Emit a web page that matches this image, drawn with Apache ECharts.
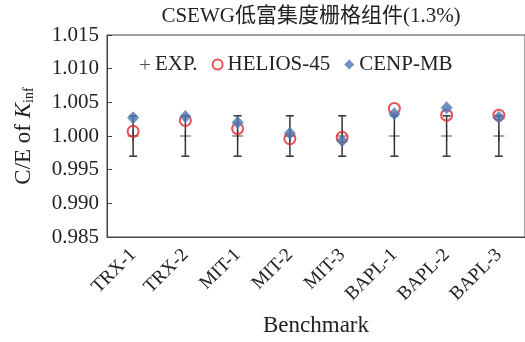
<!DOCTYPE html>
<html>
<head>
<meta charset="utf-8">
<script src="https://cdn.jsdelivr.net/npm/echarts@6/dist/echarts.min.js"></script>
<style>
  html, body { margin: 0; padding: 0; background: #fff; }
  #main { width: 525px; height: 342px; }
</style>
</head>
<body>
<div id="main"></div>
<script>
// benchmark data
const categories = ['TRX-1', 'TRX-2', 'MIT-1', 'MIT-2', 'MIT-3', 'BAPL-1', 'BAPL-2', 'BAPL-3'];
const expValues = [1.000, 1.000, 1.000, 1.000, 1.000, 1.000, 1.000, 1.000];
const expError = [0.003, 0.003, 0.003, 0.003, 0.003, 0.003, 0.003, 0.003];
const heliosValues = [1.0007, 1.0023, 1.0011, 0.9996, 0.9998, 1.0041, 1.0031, 1.0031];
const cenpValues = [1.0027, 1.0029, 1.0020, 1.0004, 0.9993, 1.0033, 1.0042, 1.0028];

const serif = '"Liberation Serif", "Times New Roman", "Noto Sans CJK SC", serif';
const plusPath = 'path://M4.5,0L5.5,0L5.5,4.5L10,4.5L10,5.5L5.5,5.5L5.5,10L4.5,10L4.5,5.5L0,5.5L0,4.5L4.5,4.5Z';

let errData = [];
expValues.forEach((v, i) => {
    errData.push([i, v - expError[i], v + expError[i]]);
});

let chart = echarts.init(document.getElementById('main'));
let options = {
    animation: false,
    title: {
        text: 'CSEWG低富集度栅格组件(1.3%)',
        left: 306,
        textAlign: 'center',
        top: 1,
        textStyle: { fontFamily: serif, fontSize: 21, fontWeight: 'normal', color: '#222' }
    },
    legend: {
        left: 135,
        top: 49,
        itemGap: 14,
        itemWidth: 10,
        itemHeight: 10,
        textStyle: { fontFamily: serif, fontSize: 21, color: '#222' },
        data: ['EXP.', 'HELIOS-45', 'CENP-MB']
    },
    grid: {
        left: 107,
        width: 421,
        top: 35,
        bottom: 102,
        show: true,
        borderColor: '#444',
        borderWidth: 1
    },
    xAxis: {
        type: 'category',
        data: categories,
        name: 'Benchmark',
        nameLocation: 'middle',
        nameGap: 77,
        nameTextStyle: { fontFamily: serif, fontSize: 23, color: '#222' },
        axisLine: { lineStyle: { color: '#444' } },
        axisTick: { inside: true, length: 5, lineStyle: { color: '#444' } },
        axisLabel: { rotate: 45, fontFamily: serif, fontSize: 19, color: '#222', margin: 15, interval: 0 }
    },
    yAxis: {
        type: 'value',
        min: 0.985,
        max: 1.015,
        interval: 0.005,
        name: 'C/E of {i|K}{sub|inf}',
        nameLocation: 'middle',
        nameGap: 71,
        nameTextStyle: {
            fontFamily: serif, fontSize: 23, color: '#222',
            rich: {
                i: { fontFamily: serif, fontSize: 23, fontStyle: 'italic', color: '#222' },
                sub: { fontFamily: serif, fontSize: 14, color: '#222', verticalAlign: 'bottom', padding: [10, 0, 0, 0] }
            }
        },
        splitLine: { show: false },
        axisLine: { show: true, lineStyle: { color: '#444' } },
        axisTick: { show: true, inside: true, length: 5, lineStyle: { color: '#444' } },
        axisLabel: {
            fontFamily: serif, fontSize: 21, color: '#222', margin: 8,
            formatter: function (v) { return v.toFixed(3); }
        }
    },
    series: [
        {
            name: 'errbar',
            type: 'custom',
            data: errData,
            z: 1,
            renderItem: function (params, api) {
                let x = api.value(0);
                let lo = api.coord([x, api.value(1)]);
                let hi = api.coord([x, api.value(2)]);
                let w = 4;
                let st = { stroke: '#333', lineWidth: 1.5 };
                return {
                    type: 'group',
                    children: [
                        { type: 'line', shape: { x1: lo[0], y1: lo[1], x2: hi[0], y2: hi[1] }, style: st },
                        { type: 'line', shape: { x1: lo[0] - w, y1: lo[1], x2: lo[0] + w, y2: lo[1] }, style: st },
                        { type: 'line', shape: { x1: hi[0] - w, y1: hi[1], x2: hi[0] + w, y2: hi[1] }, style: st }
                    ]
                };
            }
        },
        {
            name: 'EXP.',
            type: 'scatter',
            data: expValues,
            symbol: plusPath,
            symbolSize: 11,
            itemStyle: { color: '#222' },
            z: 2
        },
        {
            name: 'HELIOS-45',
            type: 'scatter',
            data: heliosValues,
            symbol: 'circle',
            symbolSize: 11,
            itemStyle: { color: 'rgba(0,0,0,0)', borderColor: '#e3262b', borderWidth: 2 },
            z: 3
        },
        {
            name: 'CENP-MB',
            type: 'scatter',
            data: cenpValues,
            symbol: 'diamond',
            symbolSize: [12, 13],
            itemStyle: { color: '#4a78b3' },
            z: 4
        }
    ]
};
chart.setOption(options);
</script>
</body>
</html>
